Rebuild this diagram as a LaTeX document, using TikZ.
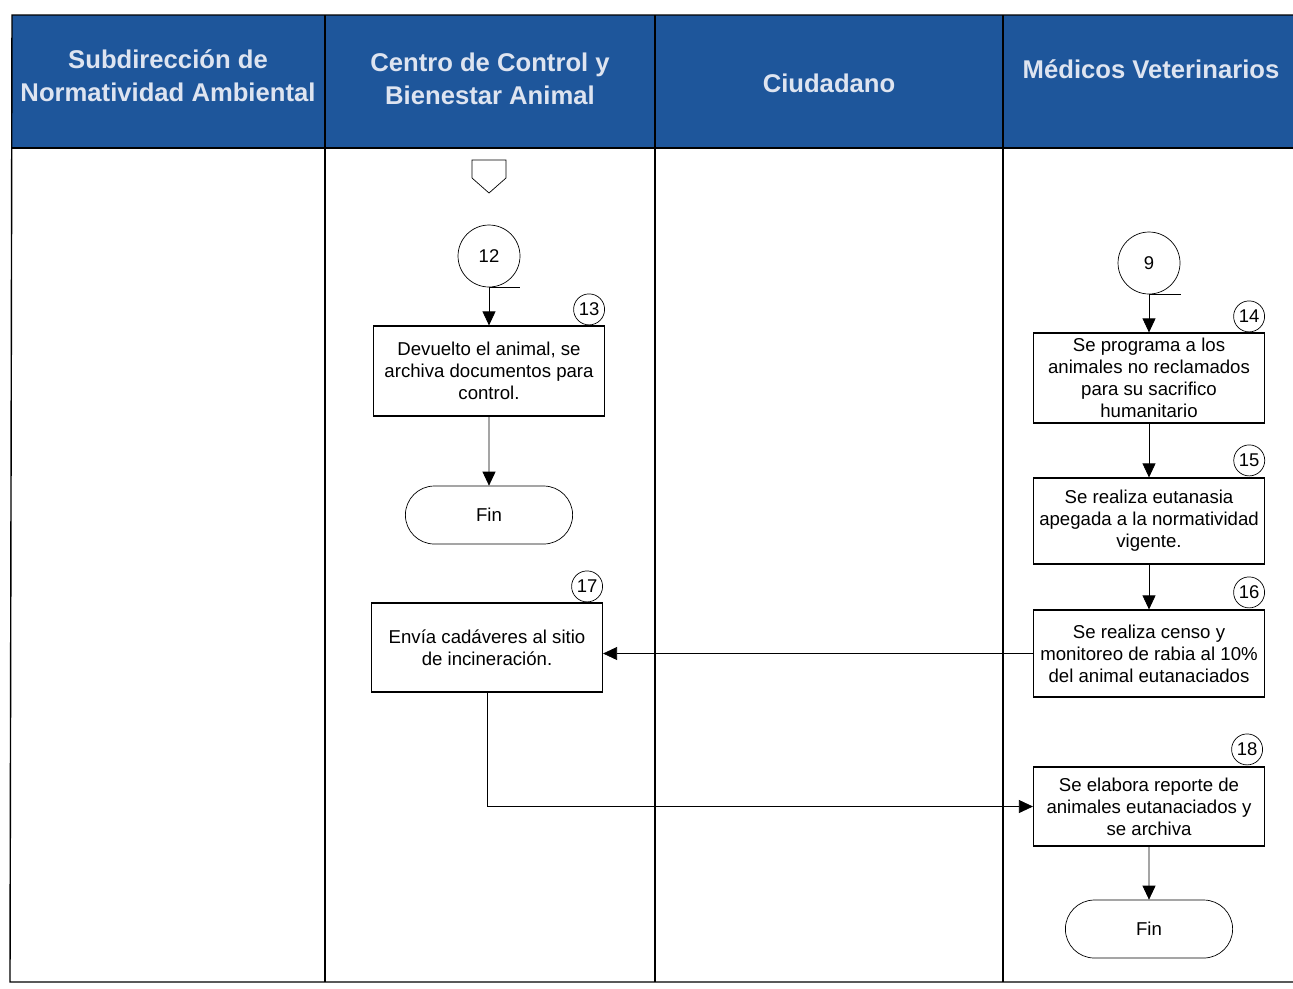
\documentclass[tikz,border=0pt]{standalone}
\usepackage{fontspec}
\setmainfont{Liberation Sans}
\usetikzlibrary{arrows.meta,shapes.misc}
\definecolor{headblue}{RGB}{30,86,155}
\definecolor{headtext}{RGB}{222,228,240}
\begin{document}
\begin{tikzpicture}[x=0.02cm,y=-0.02cm,
  >={Triangle[width=0.26cm,length=0.28cm]},
  lane/.style={line width=0.8pt},
  lanehead/.style={text=headtext,font=\bfseries\fontsize{14.6}{18.8}\selectfont,align=center},
  task/.style={draw,line width=0.7pt,minimum width=4.62cm,minimum height=1.8cm,
    inner ysep=1pt,align=center,font=\fontsize{10.6}{12.6}\selectfont},
  stepnum/.style={draw,circle,fill=white,minimum size=0.62cm,inner sep=0pt,
    font=\fontsize{10.5}{12}\selectfont},
  joint/.style={draw,circle,minimum size=1.24cm,inner sep=0pt,font=\fontsize{10.5}{12}\selectfont},
  ending/.style={draw,rounded rectangle,minimum width=3.58cm,minimum height=1.16cm,
    font=\fontsize{10.6}{12}\selectfont},
  offpage/.pic={
    \draw (-17,0) -- (17,0) -- (17,18) -- (0,33) -- (-17,18) -- cycle;}
]
\useasboundingbox (0,0) rectangle (1293,988);
% lanes
\fill[headblue] (12,15) rectangle (1293,148);
\draw[lane] (1293,15) -- (12,15) -- (10,982) -- (1293,982);
\draw[lane] (12,148) -- (1293,148);
\foreach \X in {325,655,1003}
  \draw[lane] (\X,15) -- (\X,982);

\node[lanehead] (h1) at (168,76) {Subdirección de\\Normatividad Ambiental};
\node[lanehead] (h2) at (490,79) {Centro de Control y\\Bienestar Animal};
\node[lanehead] (h3) at (829,83) {Ciudadano};
\node[lanehead] (h4) at (1151,69) {Médicos Veterinarios};

% centro de control
\path (489,160) pic {offpage};
\node[joint] (c12) at (489,256) {12};
\node[task] (b13) at (489,371) {Devuelto el animal, se\\archiva documentos para\\control.};
\node[ending] (fin1) at (489,515) {Fin};
\node[task,minimum height=1.78cm] (b17) at (487,647.5) {Envía cadáveres al sitio\\de incineración.};

% medicos veterinarios
\node[joint] (c9) at (1149,263) {9};
\node[task] (b14) at (1149,378) {Se programa a los\\animales no reclamados\\para su sacrifico\\humanitario};
\node[task,minimum height=1.72cm] (b15) at (1149,521) {Se realiza eutanasia\\apegada a la normatividad\\vigente.};
\node[task,minimum height=1.74cm] (b16) at (1149,653.5) {Se realiza censo y\\monitoreo de rabia al 10\%\\del animal eutanaciados};
\node[task,minimum height=1.58cm] (b18) at (1149,806.5) {Se elabora reporte de\\animales eutanaciados y\\se archiva};
\node[ending] (fin2) at (1149,929) {Fin};

% numbers
\node[stepnum] (n13) at ([shift={(-16,-16)}]b13.north east) {13};
\node[stepnum] (n14) at ([shift={(-16,-16)}]b14.north east) {14};
\node[stepnum] (n15) at ([shift={(-16,-17)}]b15.north east) {15};
\node[stepnum] (n16) at ([shift={(-16,-17)}]b16.north east) {16};
\node[stepnum] (n17) at ([shift={(-16,-16)}]b17.north east) {17};
\node[stepnum] (n18) at ([shift={(-18,-17)}]b18.north east) {18};

% flow
\draw (c12.south) -- ++(31,0);
\draw (c9.south) -- ++(32,0);
\draw[->] (c12) -- (b13);
\draw[->] (b13) -- (fin1);
\draw[->] (c9) -- (b14);
\draw[->] (b14) -- (b15);
\draw[->] (b15) -- (b16);
\draw[->] (b16.west) -- (b16.west -| b17.east);
\draw[->] (b17.south) |- (b18.west);
\draw[->] (b18) -- (fin2);

\end{tikzpicture}
\end{document}
